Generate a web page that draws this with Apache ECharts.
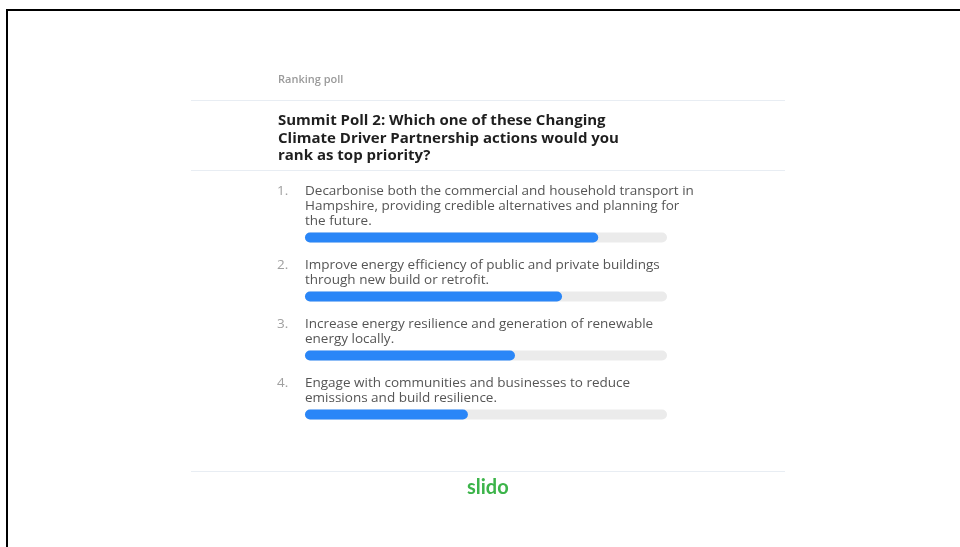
<!DOCTYPE html>
<html>
<head>
<meta charset="utf-8">
<script src="https://cdn.jsdelivr.net/npm/echarts@6/dist/echarts.min.js"></script>
<style>
  html, body { margin: 0; padding: 0; background: #fff; }
  #chart { width: 960px; height: 547px; }
</style>
</head>
<body>
<div id="chart"></div>
<script>
// ranking poll data (bar length as % of the track)
var pollType = 'Ranking poll'
var question = 'Summit Poll 2: Which one of these Changing\nClimate Driver Partnership actions would you\nrank as top priority?'
var ranks = ['1.', '2.', '3.', '4.']
var options = [
  'Decarbonise both the commercial and household transport in\nHampshire, providing credible alternatives and planning for\nthe future.',
  'Improve energy efficiency of public and private buildings\nthrough new build or retrofit.',
  'Increase energy resilience and generation of renewable\nenergy locally.',
  'Engage with communities and businesses to reduce\nemissions and build resilience.'
]
var scores = [81, 71, 58, 45]
var brand = 'slido'

var font = '"Open Sans", "Noto Sans", sans-serif'

var chart = echarts.init(document.getElementById('chart'))

// label = rank number on first line, option text indented on every line
function optionLabel(params) {
  var lines = options[params.dataIndex].split('\n')
  return lines.map(function (l, i) {
    return '{n|' + (i === 0 ? ranks[params.dataIndex] : ' ') + '}{t|' + l + '}'
  }).join('\n')
}

chart.setOption({
  animation: false,
  title: [{
    text: pollType,
    left: 278,
    top: 74,
    padding: 0,
    textStyle: { fontFamily: font, fontSize: 11, fontWeight: 600, color: '#9a9a9a', lineHeight: 12 }
  }, {
    text: question,
    left: 278,
    top: 112,
    padding: 0,
    textStyle: { fontFamily: font, fontSize: 15, fontWeight: 'bold', color: '#1f1f1f', lineHeight: 17.5 }
  }, {
    text: brand,
    left: 467,
    top: 478,
    padding: 0,
    textStyle: { fontFamily: 'Lato, sans-serif', fontSize: 20, fontWeight: 'bold', color: '#3cb44a' }
  }],
  graphic: [
    // black frame edges (top / left)
    { type: 'rect', shape: { x: 6, y: 9, width: 954, height: 2 }, style: { fill: '#000' } },
    { type: 'rect', shape: { x: 6, y: 9, width: 2, height: 538 }, style: { fill: '#000' } },
    // separators
    { type: 'line', shape: { x1: 191, y1: 100.5, x2: 785, y2: 100.5 }, style: { stroke: '#e8edf3', lineWidth: 1 } },
    { type: 'line', shape: { x1: 191, y1: 170.5, x2: 785, y2: 170.5 }, style: { stroke: '#e8edf3', lineWidth: 1 } },
    { type: 'line', shape: { x1: 191, y1: 471.5, x2: 785, y2: 471.5 }, style: { stroke: '#e8edf3', lineWidth: 1 } }
  ],
  grid: { left: 305, right: 293, top: 208, bottom: 103 },
  xAxis: {
    type: 'value', min: 0, max: 100,
    show: false
  },
  yAxis: {
    type: 'category', data: ranks, inverse: true,
    show: false
  },
  series: [{
    type: 'bar',
    data: scores,
    barWidth: 10,
    itemStyle: { color: '#2a86f7', borderRadius: 5 },
    showBackground: true,
    backgroundStyle: { color: '#ebebeb', borderRadius: 5 },
    label: {
      show: true,
      position: [-28, -4],
      align: 'left',
      verticalAlign: 'bottom',
      formatter: optionLabel,
      rich: {
        n: { width: 28, fontFamily: font, fontSize: 13.5, color: '#a0a0a0', lineHeight: 15 },
        t: { fontFamily: font, fontSize: 13.5, color: '#555555', lineHeight: 15 }
      }
    }
  }]
})
</script>
</body>
</html>
